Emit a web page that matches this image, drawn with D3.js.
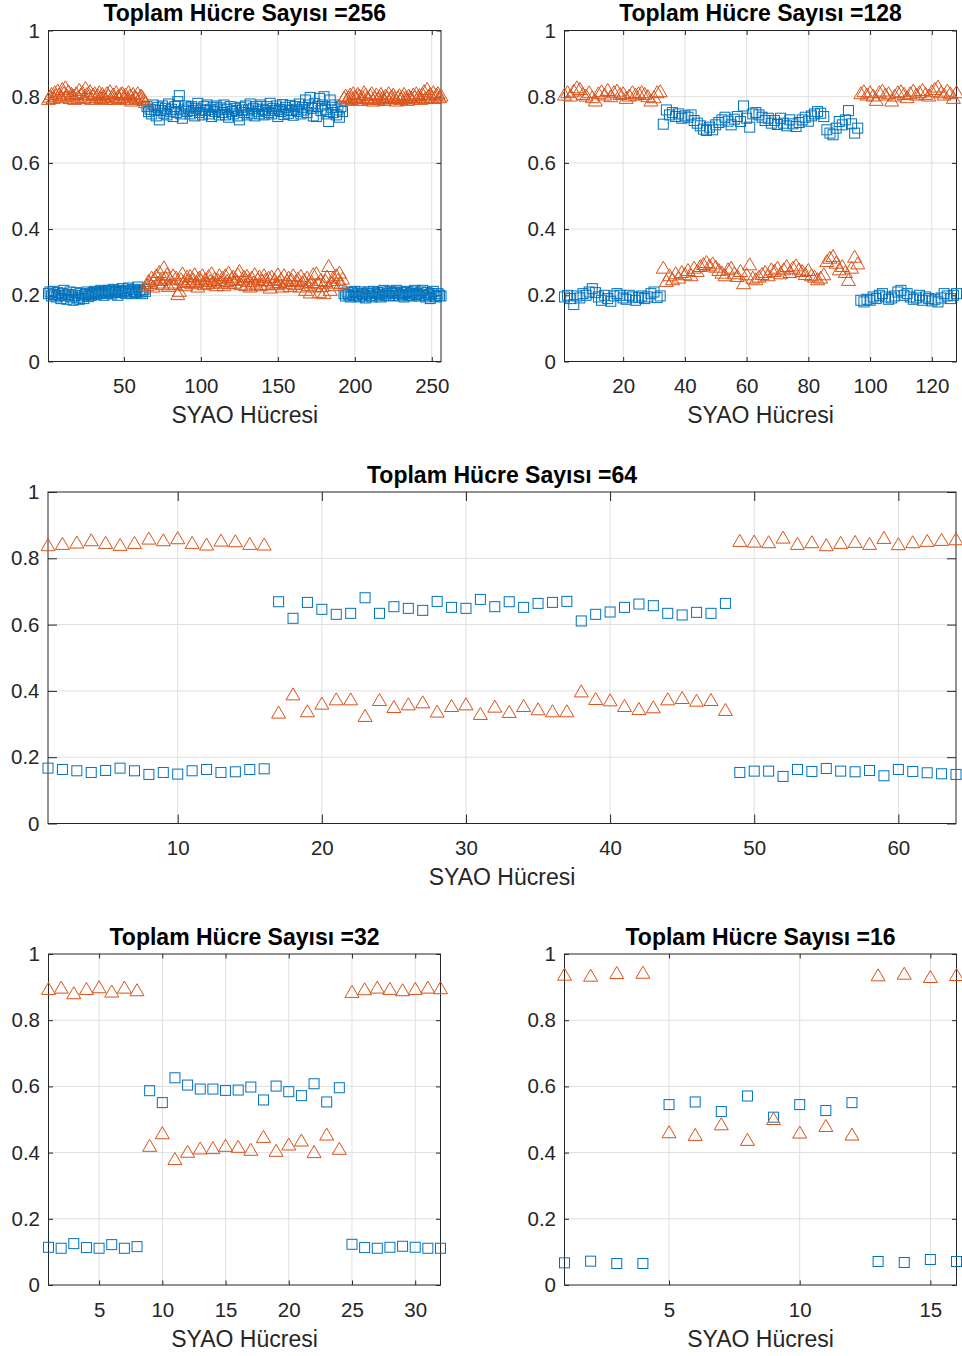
<!DOCTYPE html>
<html>
<head>
<meta charset="utf-8">
<script src="https://cdn.jsdelivr.net/npm/d3@7"></script>
<style>
  html, body { margin: 0; padding: 0; background: #ffffff; }
  svg { display: block; }
  .tick text { font-family: "Liberation Sans", Arial, Helvetica, sans-serif; }
</style>
</head>
<body>
<svg id="fig" width="962" height="1356"></svg>
<script>
// ---- values: fraction per SYAO cell, two series per run ----
const yTicks = [0, 0.2, 0.4, 0.6, 0.8, 1];
const yTickLabels = ["0", "0.2", "0.4", "0.6", "0.8", "1"];
const xLabel = "SYAO Hücresi";

const xTicks256 = [50, 100, 150, 200, 250];
const xTicks128 = [20, 40, 60, 80, 100, 120];
const xTicks64 = [10, 20, 30, 40, 50, 60];
const xTicks32 = [5, 10, 15, 20, 25, 30];
const xTicks16 = [5, 10, 15];

const blue256 = [
  .205,.210,.198,.212,.202,.195,.208,.200,.190,.205,.215,.198,.188,.202,.210,.195,
  .185,.200,.208,.192,.188,.205,.198,.190,.202,.210,.196,.205,.200,.208,.212,.203,
  .210,.205,.215,.208,.200,.212,.206,.215,.210,.204,.218,.208,.212,.200,.215,.209,
  .220,.212,.206,.215,.222,.210,.205,.218,.212,.208,.225,.215,.210,.205,.218,.212,
  .770,.755,.762,.748,.775,.760,.742,.768,.730,.758,.772,.750,.765,.745,.778,.756,
  .762,.740,.770,.752,.785,.803,.748,.735,.760,.772,.755,.766,.748,.770,.758,.742,
  .765,.780,.752,.760,.745,.770,.758,.775,.748,.762,.740,.768,.755,.772,.760,.745,
  .766,.752,.775,.745,.762,.738,.770,.755,.748,.765,.758,.742,.730,.768,.760,.752,
  .772,.745,.760,.778,.750,.765,.742,.770,.756,.748,.775,.762,.745,.758,.770,.752,
  .780,.748,.765,.758,.772,.740,.762,.755,.776,.746,.768,.760,.750,.774,.758,.744,
  .770,.762,.755,.778,.748,.768,.760,.790,.752,.775,.798,.765,.742,.780,.740,.770,
  .795,.758,.775,.800,.762,.748,.725,.790,.768,.752,.775,.745,.760,.738,.770,.755,
  .205,.198,.210,.202,.195,.208,.200,.212,.198,.205,.195,.210,.203,.198,.192,.206,
  .210,.200,.195,.212,.205,.198,.208,.202,.195,.210,.215,.200,.205,.198,.212,.207,
  .200,.208,.215,.205,.198,.210,.202,.195,.208,.212,.200,.205,.198,.210,.215,.202,
  .205,.198,.210,.215,.200,.195,.208,.202,.190,.205,.212,.198,.195,.205,.200,.198
];
const orange256 = [
  .795,.802,.810,.798,.815,.805,.820,.808,.800,.825,.812,.830,.805,.818,.798,.810,
  .805,.795,.812,.800,.822,.808,.815,.798,.828,.810,.802,.818,.795,.808,.812,.800,
  .806,.815,.798,.810,.802,.795,.812,.805,.818,.800,.808,.795,.815,.802,.798,.810,
  .812,.800,.808,.795,.815,.805,.790,.810,.802,.798,.812,.795,.805,.800,.792,.785,
  .232,.245,.238,.255,.228,.250,.262,.240,.272,.248,.235,.286,.255,.265,.230,.250,
  .240,.262,.235,.255,.205,.215,.250,.268,.242,.232,.258,.245,.260,.238,.250,.265,
  .242,.228,.255,.246,.262,.235,.250,.238,.260,.245,.268,.240,.252,.232,.248,.262,
  .240,.255,.232,.262,.245,.270,.238,.252,.258,.240,.248,.265,.275,.235,.250,.258,
  .232,.260,.245,.228,.255,.240,.265,.235,.250,.258,.232,.246,.262,.248,.235,.255,
  .225,.258,.240,.248,.235,.265,.242,.250,.228,.262,.238,.245,.255,.230,.248,.262,
  .236,.245,.252,.228,.260,.240,.248,.218,.255,.232,.210,.242,.265,.228,.268,.238,
  .212,.248,.230,.208,.245,.258,.290,.218,.240,.255,.232,.262,.248,.270,.238,.252,
  .798,.805,.792,.800,.808,.795,.812,.802,.798,.810,.805,.792,.800,.815,.808,.798,
  .795,.806,.812,.790,.800,.808,.795,.802,.810,.798,.792,.805,.800,.812,.796,.802,
  .808,.798,.790,.800,.806,.795,.802,.810,.798,.792,.805,.800,.796,.808,.802,.812,
  .800,.806,.795,.810,.818,.798,.825,.805,.810,.800,.815,.798,.808,.812,.800,.805
];

const blue128 = [
  .195,.200,.190,.172,.198,.192,.205,.200,.210,.220,.208,.195,.185,.200,.190,.182,
  .198,.205,.200,.192,.188,.200,.195,.185,.193,.198,.190,.195,.205,.210,.193,.198,
  .717,.760,.745,.752,.740,.748,.735,.742,.738,.745,.728,.720,.712,.702,.698,.708,
  .700,.715,.722,.730,.738,.726,.715,.732,.740,.725,.772,.735,.708,.748,.752,.745,
  .738,.728,.735,.720,.728,.716,.735,.720,.712,.730,.718,.710,.722,.730,.738,.726,
  .742,.748,.755,.750,.740,.700,.690,.685,.705,.725,.715,.730,.758,.718,.690,.705,
  .185,.180,.188,.185,.195,.190,.200,.205,.195,.188,.192,.198,.210,.215,.200,.205,
  .195,.188,.192,.200,.185,.195,.190,.183,.188,.180,.192,.205,.198,.190,.200,.205
];
const orange128 = [
  .808,.815,.805,.820,.830,.825,.810,.805,.815,.800,.790,.812,.818,.808,.822,.803,
  .815,.820,.810,.812,.798,.805,.815,.808,.812,.815,.810,.803,.790,.800,.815,.818,
  .285,.245,.262,.250,.268,.255,.272,.265,.278,.262,.285,.275,.290,.296,.302,.292,
  .298,.288,.278,.270,.262,.280,.285,.268,.260,.275,.238,.265,.295,.255,.250,.258,
  .266,.272,.262,.280,.275,.285,.268,.280,.290,.272,.285,.292,.280,.275,.266,.278,
  .262,.258,.250,.255,.265,.305,.315,.320,.300,.280,.290,.272,.248,.285,.318,.298,
  .812,.818,.808,.815,.805,.792,.815,.820,.808,.812,.790,.805,.815,.818,.810,.800,
  .812,.820,.808,.815,.822,.810,.805,.818,.825,.832,.815,.808,.820,.812,.798,.815
];

const blue64 = [
  .167,.163,.159,.154,.160,.167,.159,.148,.154,.149,.159,.163,.154,.156,.163,.165,
  .669,.619,.667,.646,.631,.634,.681,.634,.654,.649,.643,.670,.652,.649,.676,.654,
  .669,.652,.664,.667,.670,.611,.631,.638,.652,.662,.657,.634,.629,.637,.634,.664,
  .154,.158,.158,.142,.163,.157,.166,.158,.156,.160,.144,.163,.157,.153,.150,.148
];
const orange64 = [
  .841,.845,.849,.856,.848,.842,.848,.861,.856,.862,.848,.843,.855,.853,.845,.843,
  .336,.391,.340,.363,.376,.376,.326,.374,.353,.361,.367,.339,.356,.361,.332,.354,
  .338,.356,.346,.340,.340,.400,.377,.373,.356,.347,.352,.376,.380,.372,.374,.344,
  .854,.852,.850,.864,.845,.850,.841,.848,.851,.845,.863,.844,.850,.854,.857,.859
];

const blue32 = [
  .114,.111,.125,.113,.111,.122,.111,.116,
  .587,.551,.626,.604,.592,.592,.588,.589,.598,.559,.601,.584,.572,.608,.553,.596,
  .123,.113,.111,.114,.117,.114,.111,.111
];
const orange32 = [
  .896,.900,.883,.896,.901,.888,.900,.892,
  .422,.460,.382,.404,.414,.415,.422,.419,.410,.449,.407,.426,.438,.403,.456,.413,
  .887,.895,.900,.896,.892,.896,.900,.898
];

const blue16 = [.067,.072,.065,.065,.545,.553,.524,.571,.507,.545,.527,.551,.071,.068,.077,.071];
const orange16 = [.939,.936,.944,.945,.463,.455,.487,.440,.503,.462,.482,.456,.937,.942,.932,.938];

// ---- styling ----
const BLUE = "#0072BD";
const ORANGE = "#D95319";
const AXIS_COLOR = "#262626";
const GRID_COLOR = "#dfdfdf";
const FONT = '"Liberation Sans", Arial, Helvetica, sans-serif';
const SQUARE = 10;        // square side, px
const TRI_W = 14, TRI_H = 12;

const svg = d3.select("#fig");
svg.append("rect").attr("width", 962).attr("height", 1356).attr("fill", "#fff");

const panels = [
  { title: "Toplam Hücre Sayısı =256", blue: blue256, orange: orange256, xTicks: xTicks256,
    left: 48.5, right: 441, top: 30.5, bottom: 361.5, tick: 4.5 },
  { title: "Toplam Hücre Sayısı =128", blue: blue128, orange: orange128, xTicks: xTicks128,
    left: 564.5, right: 956.5, top: 30.5, bottom: 361.5, tick: 4.5 },
  { title: "Toplam Hücre Sayısı =64", blue: blue64, orange: orange64, xTicks: xTicks64,
    left: 48, right: 956, top: 492, bottom: 823.5, tick: 9 },
  { title: "Toplam Hücre Sayısı =32", blue: blue32, orange: orange32, xTicks: xTicks32,
    left: 48.5, right: 440.5, top: 954, bottom: 1285, tick: 4.5 },
  { title: "Toplam Hücre Sayısı =16", blue: blue16, orange: orange16, xTicks: xTicks16,
    left: 564.5, right: 956.5, top: 954, bottom: 1285, tick: 4.5 }
];

panels.forEach(drawPanel);

function drawPanel(p) {
  const n = p.blue.length;
  const x = d3.scaleLinear().domain([1, n]).range([p.left, p.right]);
  const y = d3.scaleLinear().domain([0, 1]).range([p.bottom, p.top]);
  const g = svg.append("g");

  // grid
  const grid = g.append("g").attr("stroke", GRID_COLOR).attr("stroke-width", 1);
  grid.selectAll("line.gx").data(p.xTicks).join("line")
    .attr("x1", d => x(d)).attr("x2", d => x(d))
    .attr("y1", p.top).attr("y2", p.bottom);
  grid.selectAll("line.gy").data(yTicks.filter(d => d > 0 && d < 1)).join("line")
    .attr("x1", p.left).attr("x2", p.right)
    .attr("y1", d => y(d)).attr("y2", d => y(d));

  // axes with inward ticks on all four sides
  const styleAxis = sel => {
    sel.select(".domain").remove();
    sel.selectAll(".tick line").attr("stroke", AXIS_COLOR).attr("stroke-width", 1);
    sel.selectAll(".tick text").attr("fill", AXIS_COLOR).attr("font-size", 20.5)
      .attr("font-family", FONT);
  };
  g.append("g").attr("transform", `translate(0,${p.bottom})`)
    .call(d3.axisBottom(x).tickValues(p.xTicks).tickSizeInner(-p.tick).tickSizeOuter(0).tickPadding(17))
    .call(styleAxis);
  g.append("g").attr("transform", `translate(0,${p.top})`)
    .call(d3.axisTop(x).tickValues(p.xTicks).tickSizeInner(-p.tick).tickSizeOuter(0).tickFormat(""))
    .call(styleAxis);
  g.append("g").attr("transform", `translate(${p.left},0)`)
    .call(d3.axisLeft(y).tickValues(yTicks).tickSizeInner(-p.tick).tickSizeOuter(0)
      .tickPadding(8.5).tickFormat((d, i) => yTickLabels[i]))
    .call(styleAxis);
  g.append("g").attr("transform", `translate(${p.right},0)`)
    .call(d3.axisRight(y).tickValues(yTicks).tickSizeInner(-p.tick).tickSizeOuter(0).tickFormat(""))
    .call(styleAxis);

  // box
  g.append("rect")
    .attr("x", p.left).attr("y", p.top)
    .attr("width", p.right - p.left).attr("height", p.bottom - p.top)
    .attr("fill", "none").attr("stroke", AXIS_COLOR).attr("stroke-width", 1);

  // blue squares
  g.append("g").selectAll("rect").data(p.blue).join("rect")
    .attr("x", (d, i) => x(i + 1) - SQUARE / 2)
    .attr("y", d => y(d) - SQUARE / 2)
    .attr("width", SQUARE).attr("height", SQUARE)
    .attr("fill", "none").attr("stroke", BLUE).attr("stroke-width", 1);

  // orange triangles
  const tri = `M0,${-TRI_H / 2}L${TRI_W / 2},${TRI_H / 2}L${-TRI_W / 2},${TRI_H / 2}Z`;
  g.append("g").selectAll("path").data(p.orange).join("path")
    .attr("d", tri)
    .attr("transform", (d, i) => `translate(${x(i + 1)},${y(d)})`)
    .attr("fill", "none").attr("stroke", ORANGE).attr("stroke-width", 1);

  // title and x label
  g.append("text")
    .attr("x", (p.left + p.right) / 2).attr("y", p.top - 9.5)
    .attr("text-anchor", "middle").attr("font-family", FONT)
    .attr("font-size", 23).attr("font-weight", "bold").attr("fill", "#000")
    .text(p.title);
  g.append("text")
    .attr("x", (p.left + p.right) / 2).attr("y", p.bottom + 61.5)
    .attr("text-anchor", "middle").attr("font-family", FONT)
    .attr("font-size", 23).attr("fill", AXIS_COLOR)
    .text(xLabel);
}
</script>
</body>
</html>
